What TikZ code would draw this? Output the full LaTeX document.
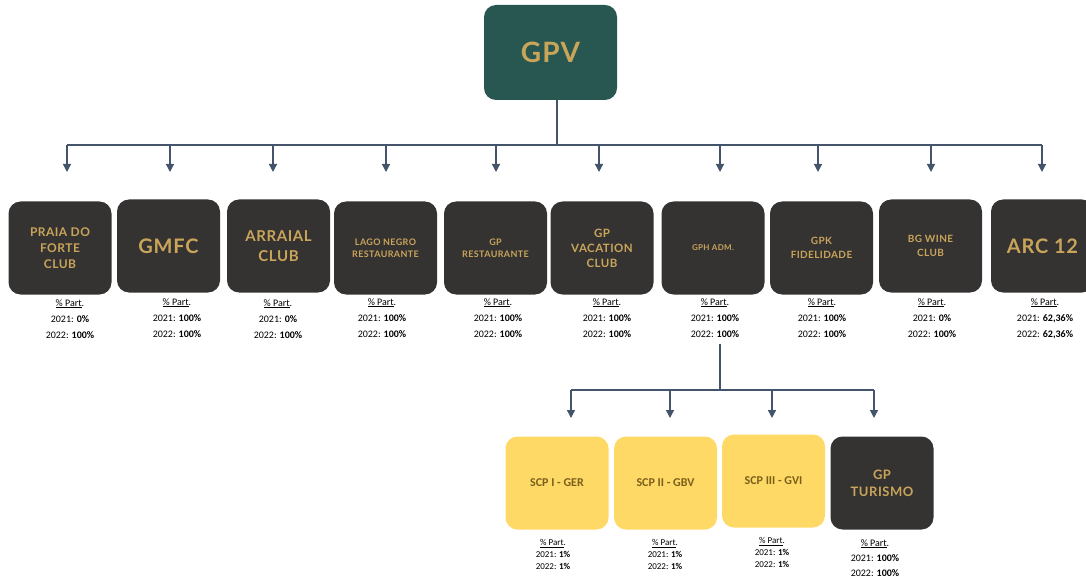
\documentclass[tikz,border=0pt]{standalone}
\usepackage{fontspec}
\setmainfont{Carlito}
\newfontfamily\boxfont[LetterSpace=4]{Lato}
\usetikzlibrary{positioning,arrows.meta}

\definecolor{gpvgreen}{HTML}{285650}
\definecolor{boxdark}{HTML}{353232}
\definecolor{boxgold}{HTML}{C9A55A}
\definecolor{boxyellow}{HTML}{FED966}
\definecolor{scptext}{HTML}{7A5F1C}
\definecolor{linkblue}{HTML}{44546A}

\tikzset{
	company/.style={rectangle,
		rounded corners=12pt,
		fill=boxdark,
		text=boxgold,
		minimum width=103pt,
		minimum height=93pt,
		align=center,
		inner sep=2pt},
	scp/.style={company,
		fill=boxyellow,
		text=scptext,
		font=\bfseries\fontsize{12}{14}\selectfont},
	part/.style={align=center,
		anchor=north,
		inner sep=0pt,
		font=\fontsize{10}{16}\selectfont},
	smallpart/.style={part,
		font=\fontsize{9}{12}\selectfont},
	link/.style={draw=linkblue, line width=1.3pt},
	arrow/.style={link, -{Triangle[width=8pt,length=8pt]}}
}

\newcommand{\bx}[2]{\boxfont\bfseries\fontsize{#1}{#2}\selectfont}
\newcommand{\partlines}[2]{\underline{\% Part}.\\2021: \textbf{#1}\\2022: \textbf{#2}}

\begin{document}
\begin{tikzpicture}[x=1pt, y=-1pt]
	
	\useasboundingbox (0,0) rectangle (1086,585);
	
	% Holding
	\node [company,
	fill=gpvgreen,
	minimum width=133pt,
	minimum height=95pt,
	font=\bx{28}{34}] (gpv) at (550.5,52.5) {GPV};
	
	% Bus to the companies
	\coordinate (bus) at (557,145);
	\draw [link] (gpv.south -| bus) -- (bus);
	
	\foreach \x [count=\i] in {67,170,273,386,496,599,720,818,931,1042}{
		\coordinate (top\i) at (\x,145);
		\coordinate (tip\i) at (\x,172);
		\draw [arrow] (top\i) -- (tip\i);
	}
	\draw [link] (top1) -- (top10);
	
	% Companies
	\node [company, font=\bx{12}{16}] (praia) at (60,248) {PRAIA DO\\FORTE\\CLUB};
	\node [company, font=\bx{20}{24}] (gmfc) at (168.5,246) {GMFC};
	\node [company, font=\bx{15}{20}] (arraial) at (278.5,246) {ARRAIAL\\CLUB};
	\node [company, font=\bx{9}{12}] (lago) at (385.5,248) {LAGO NEGRO\\RESTAURANTE};
	\node [company, font=\bx{9}{12}] (gprest) at (495.5,248) {GP\\RESTAURANTE};
	\node [company, font=\bx{11.5}{15}] (vacation) at (602,248) {GP\\VACATION\\CLUB};
	\node [company, font=\bx{8}{10}] (gph) at (713,248) {GPH ADM.};
	\node [company, font=\bx{10}{14}] (gpk) at (821.5,248) {GPK\\FIDELIDADE};
	\node [company, font=\bx{10}{14}] (bgwine) at (930.5,246) {BG WINE\\CLUB};
	\node [company, font=\bx{20}{24}] (arc) at (1042.5,246) {ARC 12};
	
	% Participations
	\node [part] (ppraia) at (70,299) {\partlines{0\%}{100\%}};
	\node [part] (pgmfc) at (177,298) {\partlines{100\%}{100\%}};
	\node [part] (parraial) at (278,299) {\partlines{0\%}{100\%}};
	\node [part] (plago) at (382,298) {\partlines{100\%}{100\%}};
	\node [part] (pgprest) at (498,298) {\partlines{100\%}{100\%}};
	\node [part] (pvacation) at (607,298) {\partlines{100\%}{100\%}};
	\node [part] (pgph) at (715,298) {\partlines{100\%}{100\%}};
	\node [part] (pgpk) at (822,298) {\partlines{100\%}{100\%}};
	\node [part] (pbgwine) at (932,298) {\partlines{0\%}{100\%}};
	\node [part] (parc) at (1045,298) {\partlines{62,36\%}{62,36\%}};
	
	% Bus below GPH ADM.
	\coordinate (sub) at (720,344);
	\coordinate (subbus) at (720,390);
	\draw [link] (sub) -- (subbus);
	
	\foreach \x [count=\i] in {571,670,772,874}{
		\coordinate (stop\i) at (\x,390);
		\coordinate (stip\i) at (\x,418);
		\draw [arrow] (stop\i) -- (stip\i);
	}
	\draw [link] (stop1) -- (stop4);
	
	% Affiliates of GPH ADM.
	\node [scp] (scp1) at (557,483) {SCP I - GER};
	\node [scp] (scp2) at (665.5,483) {SCP II - GBV};
	\node [scp] (scp3) at (773.5,481) {SCP III - GVI};
	\node [company, font=\bx{13}{17}] (turismo) at (882,483) {GP\\TURISMO};
	
	\node [smallpart] (pscp1) at (553,539) {\partlines{1\%}{1\%}};
	\node [smallpart] (pscp2) at (665,539) {\partlines{1\%}{1\%}};
	\node [smallpart] (pscp3) at (772,537) {\partlines{1\%}{1\%}};
	\node [part, font=\fontsize{10}{15}\selectfont] (pturismo) at (875,539) {\partlines{100\%}{100\%}};
	
\end{tikzpicture}
\end{document}
